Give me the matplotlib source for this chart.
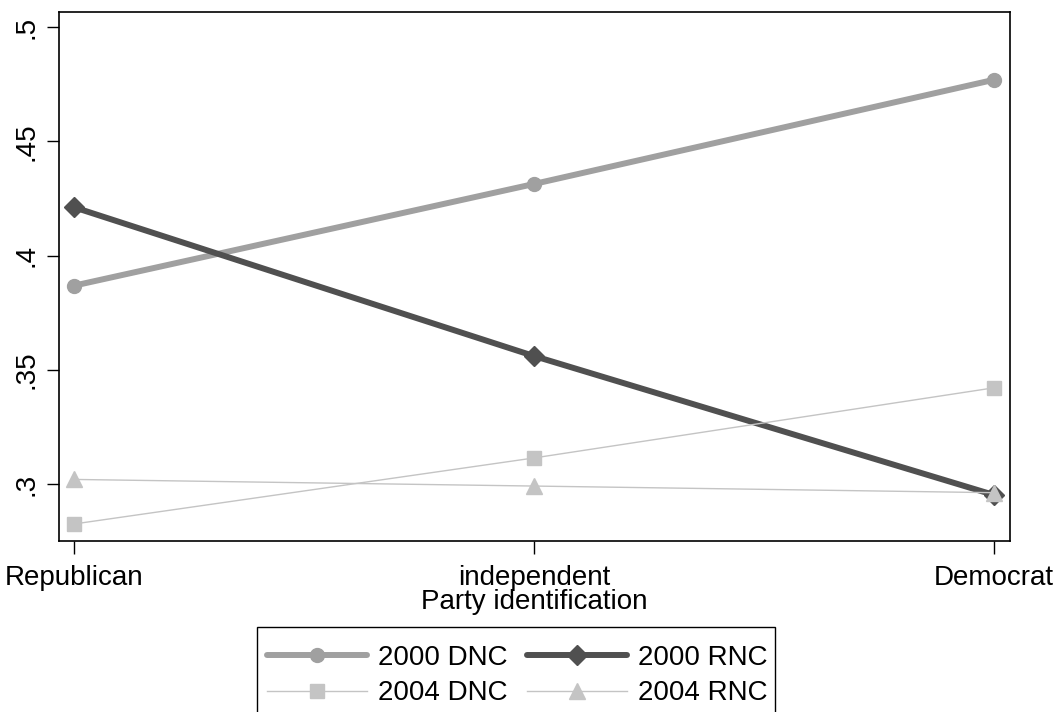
import matplotlib
matplotlib.use('Agg')
import matplotlib.pyplot as plt
from matplotlib.patches import Rectangle

# data
categories = ["Republican", "independent", "Democrat"]
dnc_2000 = [0.3868, 0.4313, 0.4769]
rnc_2000 = [0.4211, 0.3560, 0.2952]
dnc_2004 = [0.2825, 0.3114, 0.3421]
rnc_2004 = [0.3020, 0.2991, 0.2962]
y_ticks = [0.3, 0.35, 0.4, 0.45, 0.5]
y_tick_labels = [".3", ".35", ".4", ".45", ".5"]

plt.rcParams['font.family'] = ['Liberation Sans', 'DejaVu Sans']
FS = 20
W, H = 1056, 712

fig = plt.figure(figsize=(W / 100, H / 100), dpi=100)
ax = fig.add_axes([59 / W, 1 - 541 / H, (1010 - 59) / W, (541 - 12) / H])

x = list(range(1, len(categories) + 1))
h1, = ax.plot(x, dnc_2000, color="#a0a0a0", lw=4.3, marker="o", ms=10, label="2000 DNC",
              solid_capstyle="round", zorder=3)
h2, = ax.plot(x, rnc_2000, color="#505050", lw=4.3, marker="D", ms=10, label="2000 RNC",
              solid_capstyle="round", zorder=3)
h3, = ax.plot(x, dnc_2004, color="#c4c4c4", lw=1.0, marker="s", ms=9.5, label="2004 DNC", zorder=4)
h4, = ax.plot(x, rnc_2004, color="#c4c4c4", lw=1.0, marker="^", ms=11, label="2004 RNC", zorder=4)

ax.set_xlim(1 - 15 / 460, 3 + 16 / 460)
ax.set_ylim(0.3 - 57 / 2285, 0.5 + 15 / 2285)
ax.set_xticks(x)
ax.set_xticklabels(categories, fontsize=FS)
ax.set_yticks(y_ticks)
ax.set_yticklabels(y_tick_labels, fontsize=FS, rotation=90, va="center")
ax.tick_params(axis="both", length=9, width=1, color="black", pad=5)
ax.tick_params(axis="x", pad=8)
ax.set_xlabel("Party identification", fontsize=FS, labelpad=-1)
for sp in ax.spines.values():
    sp.set_linewidth(1.2)

# legend box: top edge inside the figure, bottom cut off by the figure edge
fig.patches.append(Rectangle((257 / W, -0.05), (775 - 257) / W, 0.05 + 1 - 627 / H,
                             transform=fig.transFigure, fill=False,
                             edgecolor="black", lw=1.0))

# row-wise order like the reference legend
leg = fig.legend([h1, h3, h2, h4], ["2000 DNC", "2004 DNC", "2000 RNC", "2004 RNC"],
                 ncol=2, loc="upper left",
                 bbox_to_anchor=(257 / W, 1 - 635 / H), fontsize=FS,
                 frameon=False, handlelength=3.6, columnspacing=0.7,
                 handletextpad=0.4, borderpad=0.35, borderaxespad=0,
                 labelspacing=0.35)

fig.savefig("out.png", dpi=100)
